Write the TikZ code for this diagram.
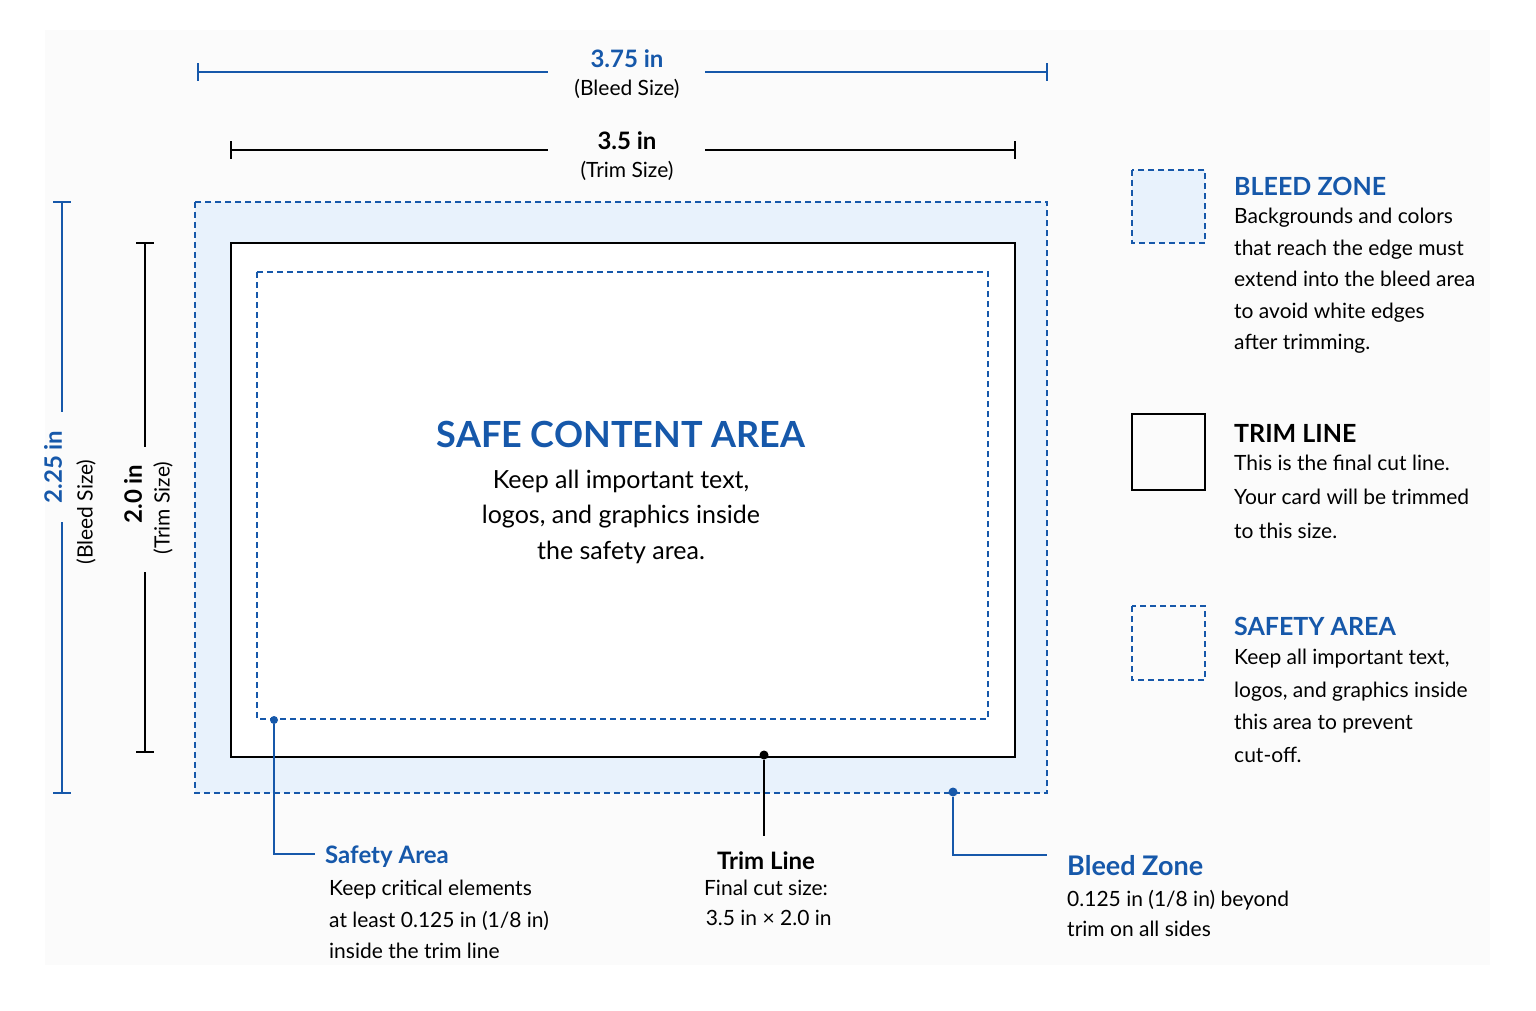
\documentclass[tikz,border=0pt]{standalone}
\usepackage{fontspec}
\setmainfont{Lato}
\usetikzlibrary{positioning}
\definecolor{cardblue}{RGB}{22,88,170}
\definecolor{bleedfill}{RGB}{232,242,252}
\definecolor{pagegray}{RGB}{251,251,251}
\tikzset{
  bleedline/.style={draw=cardblue, line width=1.6pt, dash pattern=on 6pt off 4pt},
  trimline/.style={draw=black, line width=2.6pt},
  dimblue/.style={draw=cardblue, line width=1.8pt},
  dimblack/.style={draw=black, line width=1.8pt},
  dimtitle/.style={font=\bfseries\fontsize{24}{28}\selectfont, inner sep=0pt},
  dimsub/.style={font=\fontsize{21}{25}\selectfont, inner sep=0pt},
  head/.style={font=\bfseries\fontsize{27}{32}\selectfont, text=cardblue, inner sep=0pt, anchor=west},
  body/.style={font=\fontsize{21}{31.5}\selectfont, inner sep=0pt, anchor=north west, align=left},
  dot/.style={circle, fill=#1, inner sep=0pt, minimum size=9pt},
}
\begin{document}
\begin{tikzpicture}[x=1pt,y=-1pt]
\useasboundingbox (0,0) rectangle (1536,1011);
\fill[pagegray] (45,30) rectangle (1490,965);

% card zones
\path[bleedline, fill=bleedfill] (195,202) rectangle (1047,793);
\path[trimline, fill=white] (231,243) rectangle (1015,757);
\path[bleedline] (257,272) rectangle (988,719);

% top dimensions
\node[dimtitle, text=cardblue] (bleedw) at (627,59) {3.75 in};
\node[dimsub] (bleedwsub) at (627,89) {(Bleed Size)};
\coordinate (bwl) at (198,72); \coordinate (bwr) at (1047,72);
\draw[dimblue] (bwl) -- (548,72) (705,72) -- (bwr);
\draw[dimblue] ([yshift=-9]bwl) -- ([yshift=9]bwl) ([yshift=-9]bwr) -- ([yshift=9]bwr);

\node[dimtitle] (trimw) at (627,141) {3.5 in};
\node[dimsub] (trimwsub) at (627,171) {(Trim Size)};
\coordinate (twl) at (231,150); \coordinate (twr) at (1015,150);
\draw[dimblack] (twl) -- (548,150) (705,150) -- (twr);
\draw[dimblack] ([yshift=-9]twl) -- ([yshift=9]twl) ([yshift=-9]twr) -- ([yshift=9]twr);

% left dimensions
\node[dimtitle, text=cardblue, rotate=90] (bleedh) at (53,467) {2.25 in};
\node[dimsub, rotate=90] (bleedhsub) at (86,512) {(Bleed Size)};
\coordinate (bht) at (62,202); \coordinate (bhb) at (62,793);
\draw[dimblue] (bht) -- (62,412) (62,522) -- (bhb);
\draw[dimblue] ([xshift=-9]bht) -- ([xshift=9]bht) ([xshift=-9]bhb) -- ([xshift=9]bhb);

\node[dimtitle, rotate=90] (trimh) at (133,494) {2.0 in};
\node[dimsub, rotate=90] (trimhsub) at (163,508) {(Trim Size)};
\coordinate (tht) at (145,243); \coordinate (thb) at (145,752);
\draw[dimblack] (tht) -- (145,447) (145,572) -- (thb);
\draw[dimblack] ([xshift=-9]tht) -- ([xshift=9]tht) ([xshift=-9]thb) -- ([xshift=9]thb);

% center text
\node[font=\bfseries\fontsize{36}{40}\selectfont, text=cardblue, inner sep=0pt] (safe) at (621,434) {SAFE CONTENT AREA};
\node[font=\fontsize{25}{35.5}\selectfont, align=center, inner sep=0pt, below=22pt of safe] (safebody) {Keep all important text,\\logos, and graphics inside\\the safety area.};

% callouts
\node[dot=cardblue, minimum size=8pt] (safedot) at (274,720) {};
\coordinate (safeknee) at (274,854);
\node[head, font=\bfseries\fontsize{24}{28}\selectfont] (safehead) at (325,857) {Safety Area};
\draw[dimblue] (safedot) -- (safeknee) -- (315,854);
\node[body] (safetext) at (329,880) {Keep critical elements\\at least 0.125 in (1/8 in)\\inside the trim line};

\node[dot=black] (trimdot) at (764,755) {};
\coordinate (trimend) at (764,836);
\draw[dimblack] (trimdot) -- (trimend);
\node[dimtitle] (trimhead) at (766,861) {Trim Line};
\node[font=\fontsize{21}{30}\selectfont, align=center, inner sep=0pt, below=10pt of trimhead] (trimtext) {Final cut size:\\\ 3.5 in × 2.0 in};

\node[dot=cardblue] (bleeddot) at (953,792) {};
\coordinate (bleedknee) at (953,855);
\draw[dimblue] (bleeddot) -- (bleedknee) -- (1047,855);
\node[head] (bleedhead) at (1067,866) {Bleed Zone};
\node[body, font=\fontsize{21}{30}\selectfont] (bleedtext) at (1067,890) {0.125 in (1/8 in) beyond\\trim on all sides};

% legend
\path[bleedline, fill=bleedfill] (1132,170) rectangle (1205,243);
\node[head, font=\bfseries\fontsize{25}{30}\selectfont] (lgbleed) at (1234,186) {BLEED ZONE};
\node[body] (lgbleedtext) at (1234,208) {Backgrounds and colors\\that reach the edge must\\extend into the bleed area\\to avoid white edges\\after trimming.};

\path[trimline] (1132,414) rectangle (1205,490);
\node[head, font=\bfseries\fontsize{25}{30}\selectfont, text=black] (lgtrim) at (1234,433) {TRIM LINE};
\node[body, font=\fontsize{21}{34}\selectfont] (lgtrimtext) at (1234,455) {This is the final cut line.\\Your card will be trimmed\\to this size.};

\path[bleedline] (1132,606) rectangle (1205,680);
\node[head, font=\bfseries\fontsize{25}{30}\selectfont] (lgsafe) at (1234,626) {SAFETY AREA};
\node[body, font=\fontsize{21}{32.5}\selectfont] (lgsafetext) at (1234,649) {Keep all important text,\\logos, and graphics inside\\this area to prevent\\cut-off.};
\end{tikzpicture}
\end{document}
